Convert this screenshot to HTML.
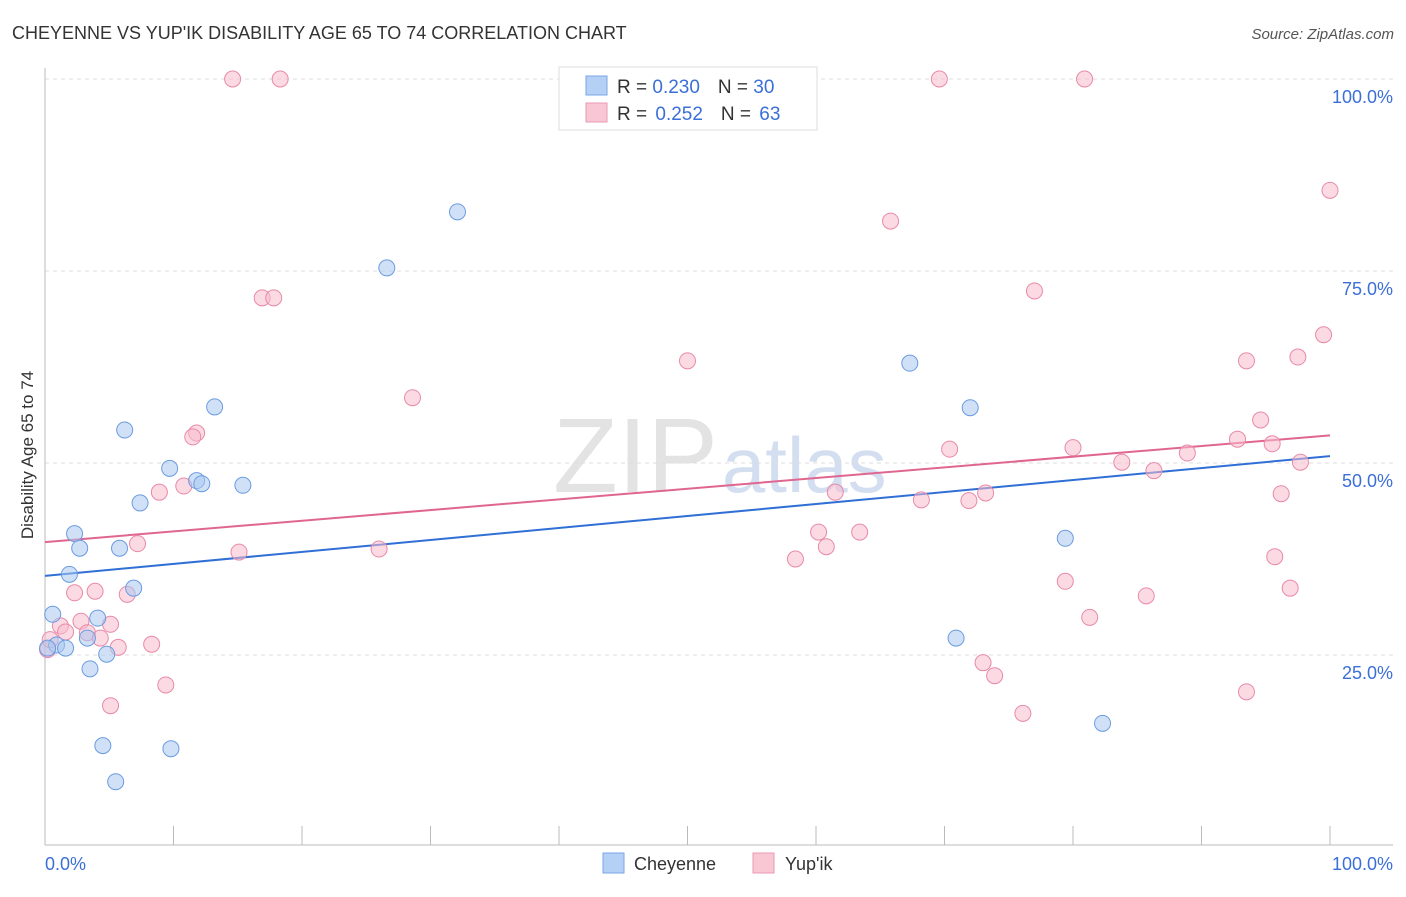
<!DOCTYPE html>
<html><head><meta charset="utf-8">
<style>
body{margin:0;background:#fff;font-family:"Liberation Sans",sans-serif;}
svg text{font-family:"Liberation Sans",sans-serif;}
</style></head>
<body>
<svg id="chart" width="1406" height="892" xmlns="http://www.w3.org/2000/svg">
<text x="12" y="39" font-size="18" fill="#333">CHEYENNE VS YUP'IK DISABILITY AGE 65 TO 74 CORRELATION CHART</text>
<text x="1394" y="39" font-size="15" fill="#555" text-anchor="end" font-style="italic">Source: ZipAtlas.com</text>
<text x="553" y="492" font-size="106" fill="#ddd" font-family="Liberation Serif" opacity="0.8">ZIP<tspan fill="#c9d8ee" font-family="Liberation Sans" font-size="78" dx="4">atlas</tspan></text>
<g id="grid"></g>
<g id="axes"></g>
<g id="lines"></g>
<g id="points"></g>
<text transform="translate(33,455) rotate(-90)" font-size="17" fill="#333" text-anchor="middle">Disability Age 65 to 74</text>
<text x="45" y="870" font-size="18" fill="#3b6fd8">0.0%</text>
<text x="1393" y="870" font-size="18" fill="#3b6fd8" text-anchor="end">100.0%</text>
<g>
<rect x="559" y="67" width="258" height="63" fill="#fff" stroke="#ddd"/>
<rect x="586" y="76" width="21" height="19" fill="#b5d0f5" stroke="#7aa4e6"/>
<rect x="586" y="103" width="21" height="19" fill="#f9c6d4" stroke="#ea9ab4"/>
<text x="617" y="93" font-size="19" fill="#333">R = <tspan fill="#3b6fd8">0.230</tspan><tspan dx="18">N = </tspan><tspan fill="#3b6fd8">30</tspan></text>
<text x="617" y="120" font-size="19" fill="#333">R = <tspan fill="#3b6fd8" dx="3">0.252</tspan><tspan dx="18">N = </tspan><tspan fill="#3b6fd8" dx="3">63</tspan></text>
</g>
<g>
<rect x="603" y="853" width="21" height="20" fill="#b5d0f5" stroke="#7aa4e6"/>
<text x="634" y="870" font-size="18" fill="#333">Cheyenne</text></g>
<g>
<rect x="753" y="853" width="21" height="20" fill="#f9c6d4" stroke="#ea9ab4"/>
<text x="785" y="870" font-size="18" fill="#333">Yup'ik</text></g>
</svg>
<script>
const yTicks=[25,50,75,100];
const yTickLabels=["25.0%","50.0%","75.0%","100.0%"];
const cheyenneX=[0.6,0.9,1.6,1.9,2.3,2.7,3.3,3.5,4.1,4.5,4.8,5.5,5.8,6.2,6.9,7.4,9.7,9.8,11.8,12.2,13.2,15.4,26.6,32.1,67.3,70.9,72.0,79.4,82.3,0.2];
const cheyenneY=[30.3,26.3,25.9,35.5,40.8,38.9,27.2,23.2,29.8,13.2,25.1,8.5,38.9,54.3,33.7,44.8,49.3,12.8,47.7,47.3,57.3,47.1,75.4,82.7,63.0,27.2,57.2,40.2,16.1,25.9];
const yupikX=[14.6,18.3,69.6,80.9,100,65.8,16.9,17.8,77.0,99.5,50.0,93.5,97.5,28.6,94.6,11.8,11.5,92.8,70.4,80.0,95.5,88.9,83.8,97.7,86.3,10.8,8.9,61.5,73.2,68.2,71.9,96.2,7.2,15.1,26.0,60.2,63.4,60.8,58.4,95.7,79.4,6.4,3.9,2.3,85.7,96.9,2.8,5.1,1.2,1.6,3.3,4.3,5.7,8.3,81.3,9.4,73.0,73.9,5.1,76.1,93.5,0.2,0.4];
const yupikY=[100,100,100,100,85.5,81.5,71.5,71.5,72.4,66.7,63.3,63.3,63.8,58.5,55.6,53.9,53.4,53.1,51.8,52.0,52.5,51.3,50.1,50.1,49.0,47.0,46.2,46.2,46.1,45.2,45.1,46.0,39.5,38.4,38.8,41.0,41.0,39.1,37.5,37.8,34.6,32.9,33.3,33.1,32.7,33.7,29.4,29.0,28.8,28.0,27.9,27.2,26.0,26.4,29.9,21.1,24.0,22.3,18.4,17.4,20.2,25.7,27.0];
const cheyenneTrend=[35.3,50.9];
const yupikTrend=[39.7,53.6];
const NS="http://www.w3.org/2000/svg";
const X0=45,X1=1330,Y0=847,Y100=79;
const sx=v=>X0+(X1-X0)*v/100;
const sy=v=>Y0-(Y0-Y100)*v/100;
function mk(tag,attrs,parent){const e=document.createElementNS(NS,tag);for(const k in attrs)e.setAttribute(k,attrs[k]);document.getElementById(parent).appendChild(e);return e;}
yTicks.forEach((t,i)=>{
 const l=mk('line',{x1:45,x2:1393,y1:sy(t),y2:sy(t),stroke:'#ddd','stroke-dasharray':'4,4'},'grid');
 
 
 const tx=mk('text',{x:1393,y:sy(t)+24,'font-size':18,fill:'#3b6fd8','text-anchor':'end'},'grid');
 tx.textContent=yTickLabels[i];
 
 
});
const ax=mk('line',{x1:45,x2:45,y1:68,y2:845,stroke:'#bbb'},'axes');


const bx=mk('line',{x1:45,x2:1393,y1:845,y2:845,stroke:'#bbb'},'axes');


for(let i=0;i<=10;i++){
 const t=mk('line',{x1:sx(i*10),x2:sx(i*10),y1:826,y2:845,stroke:'#bbb'},'axes');
 
 
}
function pts(xs,ys,fill,stroke,name){
 xs.forEach((x,i)=>{
  const c=mk('circle',{cx:sx(x),cy:sy(ys[i]),r:8,fill:fill,'fill-opacity':0.55,stroke:stroke,'stroke-width':1},'points');
  
  
 });
}
pts(yupikX,yupikY,'#f7bccd','#e88aa8','yupik-point');
pts(cheyenneX,cheyenneY,'#a9c8f0','#6b9be0','cheyenne-point');
const l1=mk('line',{x1:sx(0),y1:sy(cheyenneTrend[0]),x2:sx(100),y2:sy(cheyenneTrend[1]),stroke:'#2f6fd6','stroke-width':2},'lines');


const l2=mk('line',{x1:sx(0),y1:sy(yupikTrend[0]),x2:sx(100),y2:sy(yupikTrend[1]),stroke:'#e0668f','stroke-width':2},'lines');


</script>
</body></html>
